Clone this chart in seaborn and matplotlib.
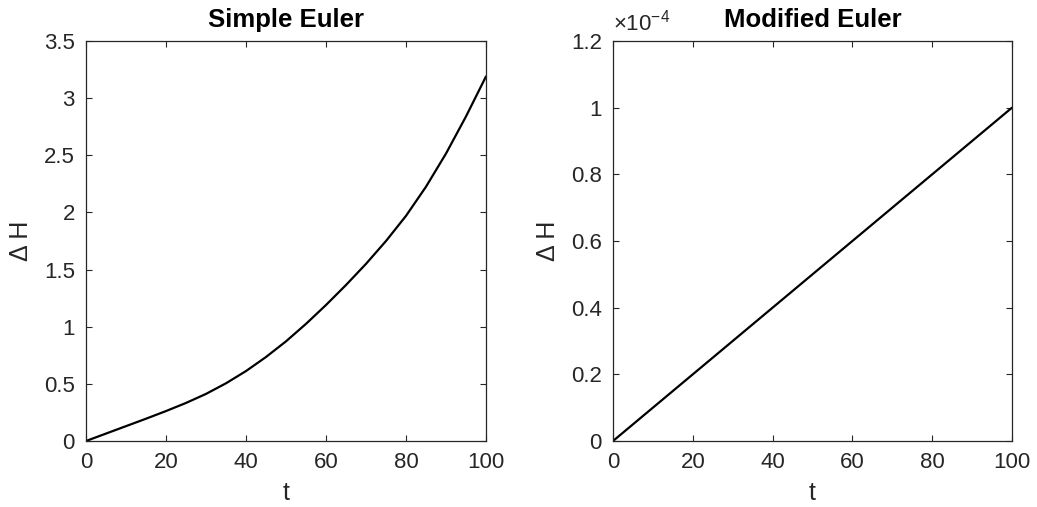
import matplotlib
matplotlib.use("Agg")
import matplotlib.pyplot as plt
import seaborn as sns
import pandas as pd

# ---- data ----
t_simple = [0, 5, 10, 15, 20, 25, 30, 35, 40, 45, 50,
            55, 60, 65, 70, 75, 80, 85, 90, 95, 100]
dH_simple = [0, 0.065, 0.13, 0.195, 0.262, 0.333, 0.412, 0.505, 0.612, 0.735, 0.872,
             1.025, 1.19, 1.365, 1.55, 1.75, 1.97, 2.225, 2.515, 2.84, 3.19]

t_mod = [0, 20, 40, 60, 80, 100]
dH_mod = [0, 0.2e-4, 0.4e-4, 0.6e-4, 0.8e-4, 1.0e-4]

titles = ["Simple Euler", "Modified Euler"]
x_ticks = [0, 20, 40, 60, 80, 100]
y_ticks_simple = [0, 0.5, 1, 1.5, 2, 2.5, 3, 3.5]
y_ticks_mod = [0, 0.2e-4, 0.4e-4, 0.6e-4, 0.8e-4, 1.0e-4, 1.2e-4]
y_ticklabels_mod = ["0", "0.2", "0.4", "0.6", "0.8", "1", "1.2"]

sns.set_theme(style="ticks")
plt.rcParams["font.family"] = ["Liberation Sans", "DejaVu Sans"]
plt.rcParams["mathtext.fontset"] = "custom"
plt.rcParams["mathtext.rm"] = "Liberation Sans"
plt.rcParams["mathtext.it"] = "Liberation Sans"

axc = "#262626"
fig = plt.figure(figsize=(10.37, 5.07), dpi=100)
ax1 = fig.add_axes([86 / 1037, 66 / 507, 400 / 1037, 400 / 507])
ax2 = fig.add_axes([613 / 1037, 66 / 507, 399 / 1037, 400 / 507])

df1 = pd.DataFrame({"t": t_simple, "dH": dH_simple})
df2 = pd.DataFrame({"t": t_mod, "dH": dH_mod})

sns.lineplot(data=df1, x="t", y="dH", ax=ax1, color="black", linewidth=1.6)
sns.lineplot(data=df2, x="t", y="dH", ax=ax2, color="black", linewidth=1.6)


def fmt(v):
    return "%g" % v


for ax, title in zip([ax1, ax2], titles):
    ax.set_xlim(0, 100)
    ax.set_xticks(x_ticks)
    ax.set_xticklabels([fmt(v) for v in x_ticks])
    ax.set_title(title, fontsize=18.5, fontweight="bold", pad=10, color="black")
    ax.set_xlabel("t", fontsize=18, color=axc, labelpad=6)
    ax.set_ylabel("\u0394 H", fontsize=18, color=axc, labelpad=8)
    ax.tick_params(direction="in", length=4, width=0.8, colors=axc,
                   labelsize=16, top=True, right=True)
    ax.tick_params(axis="y", pad=8)
    ax.tick_params(axis="x", pad=8)
    for sp in ax.spines.values():
        sp.set_visible(True)
        sp.set_color(axc)
        sp.set_linewidth(0.9)

ax1.set_ylim(0, 3.5)
ax1.set_yticks(y_ticks_simple)
ax1.set_yticklabels([fmt(v) for v in y_ticks_simple])

ax2.set_ylim(0, 1.2e-4)
ax2.set_yticks(y_ticks_mod)
ax2.set_yticklabels(y_ticklabels_mod)
ax2.text(0.0, 1.015, r"$\times\mathregular{10^{-4}}$", transform=ax2.transAxes,
         fontsize=16, color=axc, ha="left", va="bottom")

fig.savefig("out.png", dpi=100, facecolor="white")
